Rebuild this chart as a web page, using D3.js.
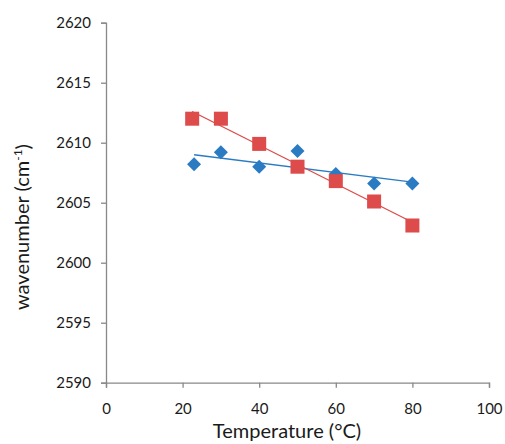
<!DOCTYPE html>
<html>
<head>
<meta charset="utf-8">
<script src="https://cdn.jsdelivr.net/npm/d3@7"></script>
<style>
  body { margin: 0; background: #fff; }
  svg text { font-family: Lato, "Open Sans", sans-serif; }
</style>
</head>
<body>
<div id="chart"></div>
<script>
// series
const redTemps = [22.5, 30, 40, 50, 60, 70, 80]
const redWaves = [2612.0, 2612.0, 2609.9, 2608.0, 2606.8, 2605.1, 2603.1]
const blueTemps = [23, 30, 40, 50, 60, 70, 80]
const blueWaves = [2608.2, 2609.2, 2608.0, 2609.3, 2607.4, 2606.6, 2606.6]

const xTicks = [0, 20, 40, 60, 80, 100]
const yTicks = [2590, 2595, 2600, 2605, 2610, 2615, 2620]

const width = 505
const height = 444
const plotLeft = 106, plotRight = 489, plotTop = 22.7, plotBottom = 382.7

const xScale = d3.scaleLinear().domain([0, 100]).range([plotLeft, plotRight])
const yScale = d3.scaleLinear().domain([2590, 2620]).range([plotBottom, plotTop])

const svg = d3.select('#chart').append('svg').attr('width', width).attr('height', height)

const axisColor = '#888'

const xAxis = d3.axisBottom(xScale).tickValues(xTicks).tickFormat(d3.format('d')).tickSize(5).tickSizeOuter(5)
const yAxis = d3.axisLeft(yScale).tickValues(yTicks).tickFormat(d3.format('d')).tickSize(5).tickSizeOuter(5)

const gx = svg.append('g').attr('class', 'x-axis')
    .attr('transform', 'translate(0,' + plotBottom + ')').call(xAxis)
const gy = svg.append('g').attr('class', 'y-axis')
    .attr('transform', 'translate(' + plotLeft + ',0)').call(yAxis)

svg.selectAll('.domain, .tick line').attr('stroke', axisColor).attr('stroke-width', 1.3)
gx.selectAll('text').attr('font-size', '15px').attr('fill', '#1a1a1a').attr('y', 31).attr('dy', 0)
gy.selectAll('text').attr('font-size', '15px').attr('fill', '#1a1a1a').attr('x', -15)

// linear trendline, like the spreadsheet's
function fit(xs, ys) {
    const mx = d3.mean(xs), my = d3.mean(ys)
    let sxy = 0, sxx = 0
    xs.forEach(function(x, i) {
        sxy += (x - mx) * (ys[i] - my)
        sxx += (x - mx) * (x - mx)
    })
    const slope = sxy / sxx
    const x0 = d3.min(xs), x1 = d3.max(xs)
    return [[x0, my + slope * (x0 - mx)], [x1, my + slope * (x1 - mx)]]
}

const line = d3.line()
    .x(function(d) { return xScale(d[0]) })
    .y(function(d) { return yScale(d[1]) })

const red = '#dd4b4b'
const blue = '#2a7bc2'

svg.append('path').attr('d', line(fit(blueTemps, blueWaves)))
    .attr('fill', 'none').attr('stroke', blue).attr('stroke-width', 1.3)
svg.append('path').attr('d', line(fit(redTemps, redWaves)))
    .attr('fill', 'none').attr('stroke', red).attr('stroke-width', 1.3)

const blueData = blueTemps.map(function(t, i) { return [t, blueWaves[i]] })
const redData = redTemps.map(function(t, i) { return [t, redWaves[i]] })

svg.selectAll('.diamond').data(blueData).enter()
    .append('path')
    .attr('class', 'diamond')
    .attr('d', d3.symbol(d3.symbolDiamond2, 125)())
    .attr('transform', function(d) {
        return 'translate(' + xScale(d[0]) + ',' + yScale(d[1]) + ')'
    })
    .attr('fill', blue)

svg.selectAll('.square').data(redData).enter()
    .append('rect')
    .attr('class', 'square')
    .attr('x', function(d) { return xScale(d[0]) - 7 })
    .attr('y', function(d) { return yScale(d[1]) - 7 })
    .attr('width', 14)
    .attr('height', 14)
    .attr('fill', red)

svg.append('text')
    .attr('x', 287).attr('y', 438)
    .attr('text-anchor', 'middle')
    .attr('font-size', '20px').attr('fill', '#1a1a1a')
    .text('Temperature (°C)')

const yTitle = svg.append('text')
    .attr('transform', 'translate(29,227) rotate(-90)')
    .attr('text-anchor', 'middle')
    .attr('font-size', '20px').attr('fill', '#1a1a1a')
yTitle.append('tspan').text('wavenumber (cm')
yTitle.append('tspan').attr('font-size', '12px').attr('dy', '-0.6em').text('-1')
yTitle.append('tspan').attr('dy', '0.4em').text(')')
</script>
</body>
</html>
